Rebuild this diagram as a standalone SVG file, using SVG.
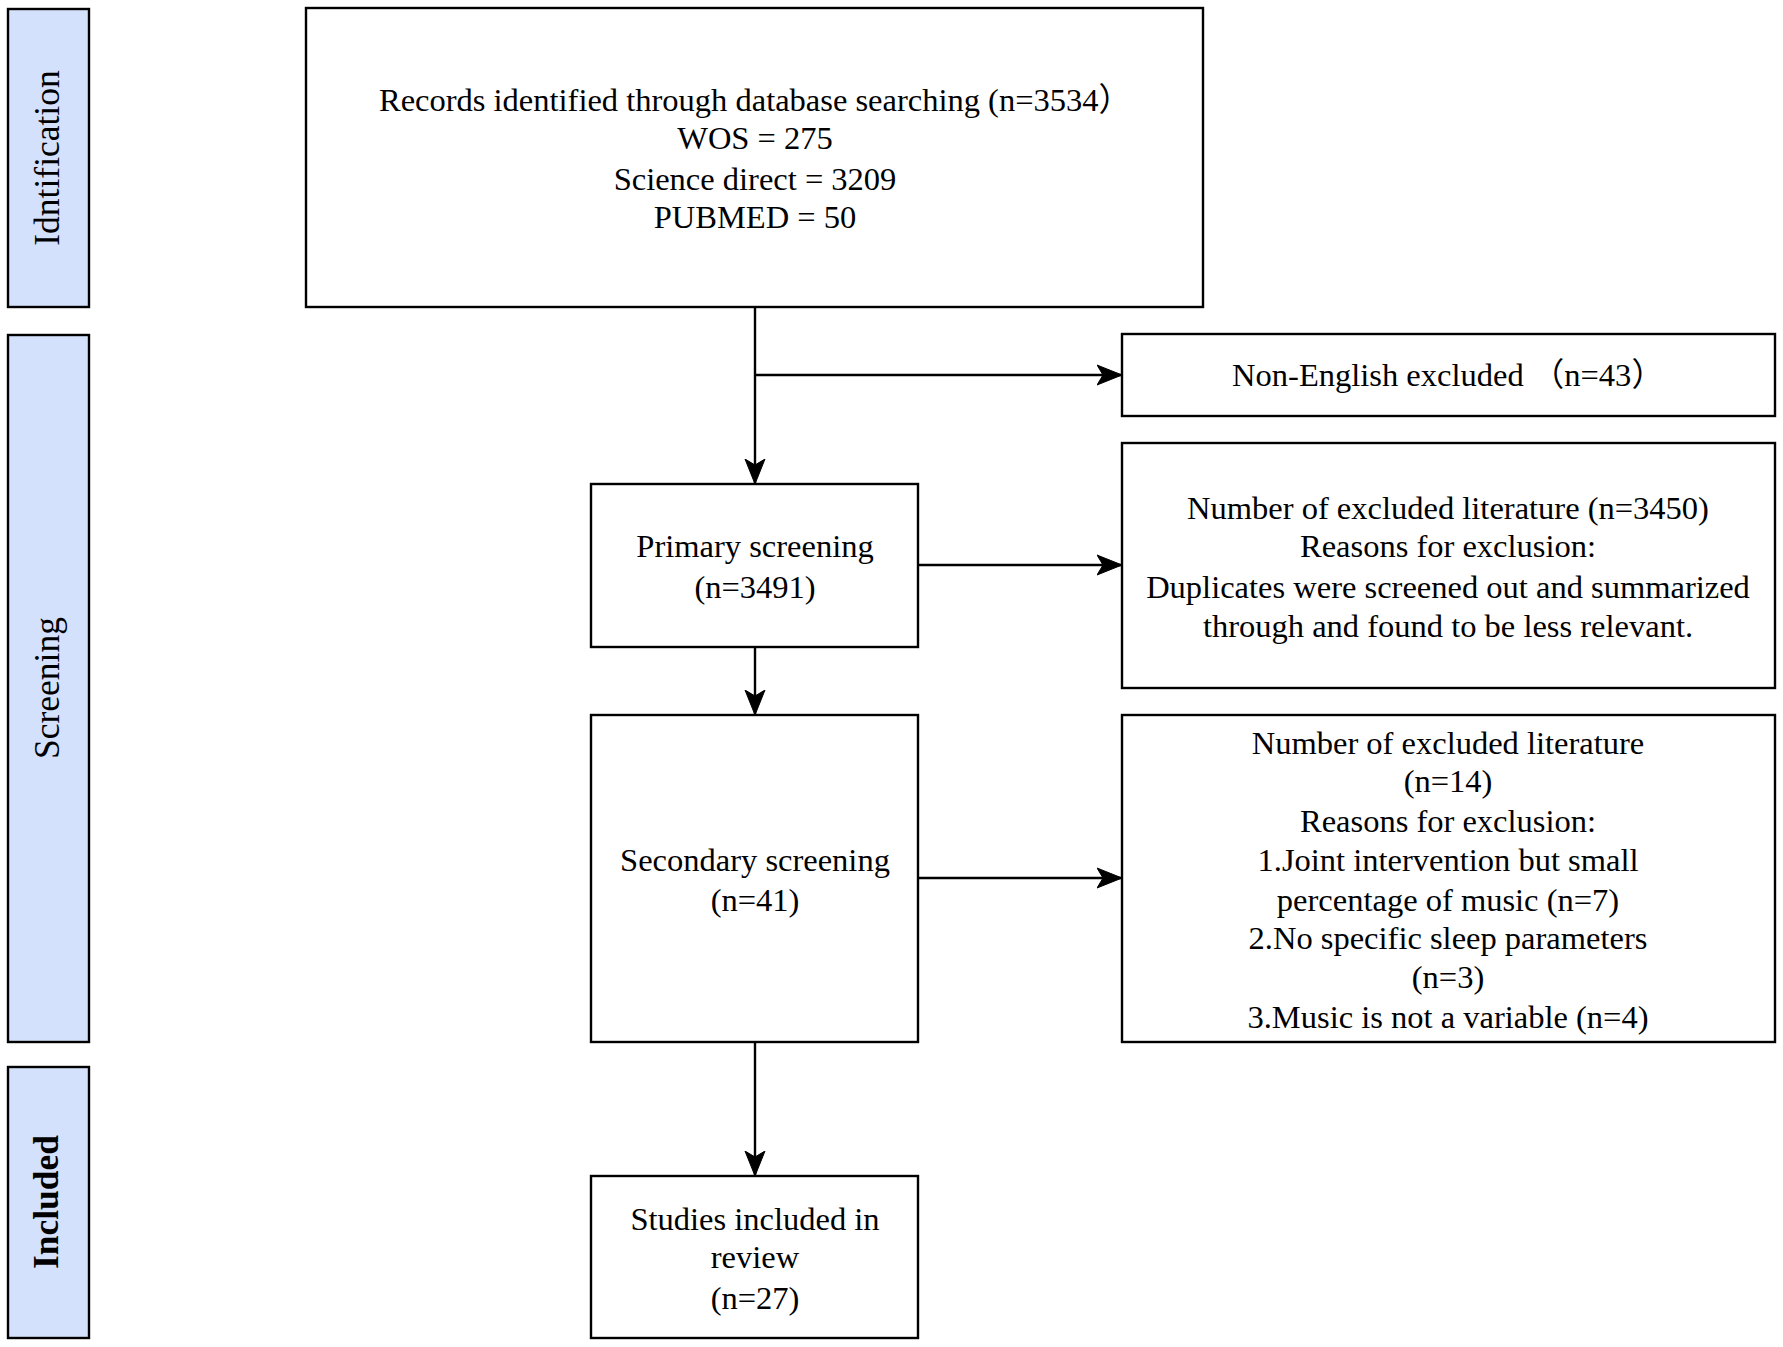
<svg xmlns="http://www.w3.org/2000/svg" width="1783" height="1347" viewBox="0 0 1783 1347">
<style>
.box{fill:#ffffff;stroke:#000;stroke-width:2.4}
.lab{fill:#d4e1fc;stroke:#000;stroke-width:2.4}
.t{font-family:"Liberation Serif",serif;font-size:32.5px;fill:#000;text-anchor:middle}
.cjk{font-family:"Noto Sans CJK SC",serif}
.lt{font-family:"Liberation Serif",serif;font-size:35.5px;fill:#000;text-anchor:middle}
.con{fill:none;stroke:#000;stroke-width:2.4}
</style>
<defs>
<marker id="arr" markerUnits="userSpaceOnUse" markerWidth="26" markerHeight="22" refX="25" refY="11" orient="auto" viewBox="0 0 26 22">
<path d="M0,1 L25,11 L0,21 L6,11 Z" fill="#000" stroke="#000" stroke-width="1"/>
</marker>
</defs>
<rect width="1783" height="1347" fill="#ffffff"/>
<g id="label-identification">
<rect class="lab" x="8" y="9" width="81" height="298"/>
<text class="lt" transform="translate(59,158) rotate(-90)">Idntification</text>
</g>
<g id="label-screening">
<rect class="lab" x="8" y="335" width="81" height="707"/>
<text class="lt" transform="translate(59,688) rotate(-90)">Screening</text>
</g>
<g id="label-included">
<rect class="lab" x="8" y="1067" width="81" height="271"/>
<text class="lt" font-weight="bold" font-size="32" transform="translate(58,1202) rotate(-90)">Included</text>
</g>
<g id="records">
<rect class="box" x="306" y="8" width="897" height="299"/>
<text class="t" x="755" y="111">Records identified through database searching (n=3534<tspan class="cjk">）</tspan></text>
<text class="t" x="755" y="149">WOS = 275</text>
<text class="t" x="755" y="190">Science direct = 3209</text>
<text class="t" x="755" y="228">PUBMED = 50</text>
</g>
<g id="non-english">
<rect class="box" x="1122" y="334" width="653" height="82"/>
<text class="t" x="1448" y="386">Non-English excluded <tspan class="cjk">（</tspan>n=43<tspan class="cjk">）</tspan></text>
</g>
<g id="primary">
<rect class="box" x="591" y="484" width="327" height="163"/>
<text class="t" x="755" y="557">Primary screening</text>
<text class="t" x="755" y="598">(n=3491)</text>
</g>
<g id="excluded-1">
<rect class="box" x="1122" y="443" width="653" height="245"/>
<text class="t" x="1448" y="519">Number of excluded literature (n=3450)</text>
<text class="t" x="1448" y="557">Reasons for exclusion:</text>
<text class="t" x="1448" y="598">Duplicates were screened out and summarized</text>
<text class="t" x="1448" y="637">through and found to be less relevant.</text>
</g>
<g id="secondary">
<rect class="box" x="591" y="715" width="327" height="327"/>
<text class="t" x="755" y="871">Secondary screening</text>
<text class="t" x="755" y="911">(n=41)</text>
</g>
<g id="excluded-2">
<rect class="box" x="1122" y="715" width="653" height="327"/>
<text class="t" x="1448" y="754">Number of excluded literature</text>
<text class="t" x="1448" y="792">(n=14)</text>
<text class="t" x="1448" y="832">Reasons for exclusion:</text>
<text class="t" x="1448" y="871">1.Joint intervention but small</text>
<text class="t" x="1448" y="911">percentage of music (n=7)</text>
<text class="t" x="1448" y="949">2.No specific sleep parameters</text>
<text class="t" x="1448" y="988">(n=3)</text>
<text class="t" x="1448" y="1028">3.Music is not a variable (n=4)</text>
</g>
<g id="included">
<rect class="box" x="591" y="1176" width="327" height="162"/>
<text class="t" x="755" y="1230">Studies included in</text>
<text class="t" x="755" y="1268">review</text>
<text class="t" x="755" y="1309">(n=27)</text>
</g>
<g id="connectors">
<line class="con" x1="755" y1="307" x2="755" y2="484" marker-end="url(#arr)"/>
<line class="con" x1="755" y1="375" x2="1122" y2="375" marker-end="url(#arr)"/>
<line class="con" x1="918" y1="565" x2="1122" y2="565" marker-end="url(#arr)"/>
<line class="con" x1="755" y1="647" x2="755" y2="715" marker-end="url(#arr)"/>
<line class="con" x1="918" y1="878" x2="1122" y2="878" marker-end="url(#arr)"/>
<line class="con" x1="755" y1="1042" x2="755" y2="1176" marker-end="url(#arr)"/>
</g>
</svg>
